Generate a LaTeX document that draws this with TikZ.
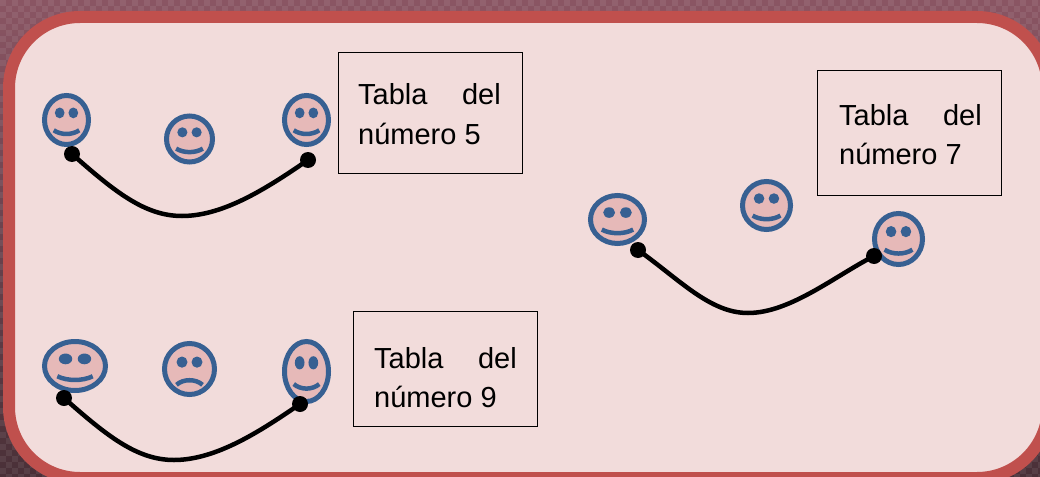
\documentclass[tikz,border=0pt]{standalone}
\usepackage{fontspec}
\setmainfont{Liberation Sans}
\definecolor{panelred}{HTML}{C0504D}
\definecolor{panelfill}{HTML}{F2DCDB}
\definecolor{facefill}{HTML}{E6B9B8}
\definecolor{faceblue}{HTML}{376092}
\definecolor{backtop}{HTML}{8A5563}
\definecolor{backlow}{HTML}{4A3038}
\tikzset{
  facering/.style={draw=faceblue,fill=facefill,line width=5pt},
  facepart/.style={fill=faceblue,draw=none},
  facemouth/.style={draw=faceblue,line width=4.5pt},
  tablebox/.style={draw=black,line width=0.8pt,anchor=north west,inner sep=0pt},
  tablatext/.style={font=\fontsize{29}{39}\selectfont,anchor=base west,inner sep=0pt},
  jumpline/.style={line width=4.5pt,line cap=round},
  jumpdot/.style={circle,fill=black,inner sep=0pt,minimum size=16pt}
}
% one face: centre, half width, half height, smile height
\newcommand{\smiley}[5]{
  \begin{scope}[shift={(#1,#2)},x=#3,y=#4]
    \draw[facering] (0,0) circle (1);
    \fill[facepart] (-0.31,0.29) circle (0.22);
    \fill[facepart] (0.31,0.29) circle (0.22);
    \draw[facemouth] (-0.58,#5) .. controls (-0.25,{#5-0.2}) and (0.25,{#5-0.2}) .. (0.58,#5);
  \end{scope}
}
\newcommand{\frowny}[4]{
  \begin{scope}[shift={(#1,#2)},x=#3,y=#4]
    \draw[facering] (0,0) circle (1);
    \fill[facepart] (-0.3,0.27) circle (0.22);
    \fill[facepart] (0.3,0.27) circle (0.22);
    \draw[facemouth] (-0.52,-0.62) .. controls (-0.25,-0.38) and (0.25,-0.38) .. (0.52,-0.62);
  \end{scope}
}
\begin{document}
\begin{tikzpicture}[x=1pt,y=-1pt]
  \useasboundingbox (0,0) rectangle (1040,476);
  \clip (0,0) rectangle (1040,476);
  % backdrop
  \shade[top color=backtop,bottom color=backlow] (0,0) rectangle (1040,476);
  \foreach \ry in {0,12,...,468}{
    \draw[white,opacity=0.07,line width=6pt,dash pattern=on 6pt off 6pt] (0,\ry+3) -- (1040,\ry+3);
    \draw[white,opacity=0.07,line width=6pt,dash pattern=on 6pt off 6pt,dash phase=6pt] (0,\ry+9) -- (1040,\ry+9);
  }
  \draw[panelred,fill=panelfill,line width=12pt,rounded corners=71pt] (9,17) rectangle (1048,478);

  % faces
  \smiley{66.5}{120}{22pt}{24.5pt}{-0.42}
  \smiley{189.5}{139}{23pt}{23pt}{-0.42}
  \smiley{306.5}{120}{22pt}{24.5pt}{-0.42}
  \smiley{617.5}{219.5}{27pt}{24pt}{-0.42}
  \smiley{766.5}{205.5}{24pt}{24pt}{-0.42}
  \smiley{898.5}{239}{24pt}{25.5pt}{-0.42}
  \smiley{75}{366}{30.5pt}{24.5pt}{-0.42}
  \frowny{189.5}{369}{25pt}{25.5pt}
  \smiley{306.5}{371.5}{22pt}{30pt}{-0.42}

  % jumps
  \node[jumpdot] (a1) at (72,154) {};
  \node[jumpdot] (a2) at (308,160) {};
  \node[jumpdot] (b1) at (638,250) {};
  \node[jumpdot] (b2) at (874,256) {};
  \node[jumpdot] (c1) at (64,398) {};
  \node[jumpdot] (c2) at (300,404) {};
  \draw[jumpline] (a1.center) .. controls (115,192) and (145,216) .. (182,216) .. controls (225,216) and (270,186) .. (a2.center);
  \draw[jumpline] (b1.center) .. controls (680,280) and (710,313) .. (748,313) .. controls (790,313) and (835,276) .. (b2.center);
  \draw[jumpline] (c1.center) .. controls (107,436) and (137,460) .. (174,460) .. controls (217,460) and (262,430) .. (c2.center);

  % boxes
  \node[tablebox,minimum width=184pt,minimum height=121pt] (box5) at (338,52) {};
  \node[tablebox,minimum width=184pt,minimum height=125pt] (box7) at (817,70) {};
  \node[tablebox,minimum width=184pt,minimum height=115pt] (box9) at (353,311) {};
  \foreach \bx/\by/\num in {358/105/5,839/125/7,374/368/9}{
    \node[tablatext] at (\bx,\by) {Tabla};
    \node[tablatext,anchor=base east] at (\bx+143,\by) {del};
    \node[tablatext] at (\bx,\by+39) {número \num};
  }
\end{tikzpicture}
\end{document}
